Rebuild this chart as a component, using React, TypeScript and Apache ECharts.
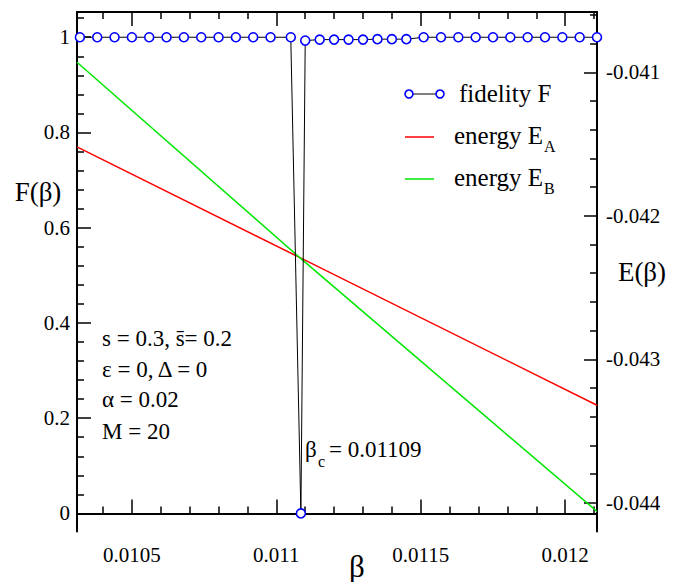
import React, { useEffect, useRef } from 'react';
import * as echarts from 'echarts';

// ---- data ----
const betaF = [
  0.01032, 0.01038, 0.01044, 0.0105, 0.01056, 0.01062, 0.01068, 0.01074, 0.0108, 0.01086,
  0.01092, 0.01098, 0.01105, 0.011085, 0.0111, 0.01115, 0.0112, 0.01125, 0.0113, 0.01135,
  0.0114, 0.01145, 0.01151, 0.01157, 0.01163, 0.01169, 0.01175, 0.01181, 0.01187, 0.01193,
  0.01199, 0.01205, 0.01211,
];
const fidelity = [
  1, 1, 1, 1, 1, 1, 1, 1, 1, 1,
  1, 1, 1, 0, 0.993, 0.995, 0.995, 0.995, 0.995, 0.996,
  0.996, 0.996, 1, 1, 1, 1, 1, 1, 1, 1,
  1, 1, 1,
];
const betaE = [0.01031, 0.01108, 0.01211];
const energyA = [-0.04152, -0.04229, -0.04332];
const energyB = [-0.04093, -0.04229, -0.04406];

const xMajorTicks = [0.0105, 0.011, 0.0115, 0.012];
const xMinorTicks = [0.0104, 0.0106, 0.0107, 0.0108, 0.0109, 0.0111, 0.0112, 0.0113, 0.0114, 0.0116, 0.0117, 0.0118, 0.0119, 0.0121];
const fMajorTicks = [0, 0.2, 0.4, 0.6, 0.8, 1];
const fMinorTicks = [0.04, 0.08, 0.12, 0.16, 0.24, 0.28, 0.32, 0.36, 0.44, 0.48, 0.52, 0.56, 0.64, 0.68, 0.72, 0.76, 0.84, 0.88, 0.92, 0.96, 1.04];
const eMajorTicks = [-0.041, -0.042, -0.043, -0.044];
const eMinorTicks = [-0.0406, -0.0408, -0.0412, -0.0414, -0.0416, -0.0418, -0.0422, -0.0424, -0.0426, -0.0428, -0.0432, -0.0434, -0.0436, -0.0438];

const X_MIN = 0.01031;
const X_MAX = 0.01211;
const F_MIN = -0.038;
const F_MAX = 1.053;
const E_MIN = -0.0442;
const E_MAX = -0.04058;

const FONT = 'Liberation Serif';

export default function App() {
  const ref = useRef<HTMLDivElement>(null);
  useEffect(() => {
    if (!ref.current) return;
    const chart = echarts.init(ref.current, null, { renderer: 'svg' });
    const axisLine = { show: true, lineStyle: { color: '#000', width: 2 } };
    const noLabel = { show: false };
    const xBase = { type: 'value', min: X_MIN, max: X_MAX, splitLine: { show: false } };
    const fBase = { type: 'value', min: F_MIN, max: F_MAX, splitLine: { show: false } };
    const eBase = { type: 'value', min: E_MIN, max: E_MAX, splitLine: { show: false } };
    const tick = (vals: number[], len: number, w = 1.5) => ({
      show: true, inside: true, length: len, customValues: vals, lineStyle: { color: '#000', width: w },
    });
    const labelStyle = { color: '#000', fontFamily: FONT, fontSize: 21 };

    const txt = (t: string, x: number, y: number, size: number, align = 'left') => ({
      type: 'text', x, y,
      style: { text: t, fill: '#000', fontFamily: FONT, fontSize: size, align, verticalAlign: 'middle' },
    });

    chart.setOption({
      animation: false,
      backgroundColor: '#fff',
      grid: { left: 77, top: 12, width: 520, height: 519.5, containLabel: false },
      xAxis: [
        { ...xBase, position: 'bottom', axisLine, axisTick: tick(xMajorTicks, 14),
          axisLabel: { ...labelStyle, customValues: xMajorTicks, margin: 13 } },
        { ...xBase, position: 'bottom', axisLine: { show: false }, axisTick: tick(xMinorTicks, 7), axisLabel: noLabel },
        { ...xBase, position: 'top', axisLine, axisTick: tick(xMajorTicks, 14), axisLabel: noLabel },
        { ...xBase, position: 'top', axisLine: { show: false }, axisTick: tick(xMinorTicks, 7), axisLabel: noLabel },
      ],
      yAxis: [
        { ...fBase, position: 'left', axisLine, axisTick: tick(fMajorTicks, 14),
          axisLabel: { ...labelStyle, customValues: fMajorTicks, margin: 7 } },
        { ...eBase, position: 'right', axisLine, axisTick: tick(eMajorTicks, 13),
          axisLabel: { ...labelStyle, customValues: eMajorTicks, margin: 9 } },
        { ...fBase, position: 'left', axisLine: { show: false }, axisTick: tick(fMinorTicks, 7), axisLabel: noLabel },
        { ...eBase, position: 'right', axisLine: { show: false }, axisTick: tick(eMinorTicks, 7), axisLabel: noLabel },
      ],
      series: [
        {
          name: 'energy EA', type: 'line', xAxisIndex: 0, yAxisIndex: 1, showSymbol: false, symbol: 'none',
          data: betaE.map((b, i) => [b, energyA[i]]), lineStyle: { color: '#ff0000', width: 1.5 }, z: 2,
        },
        {
          name: 'energy EB', type: 'line', xAxisIndex: 0, yAxisIndex: 1, showSymbol: false, symbol: 'none',
          data: betaE.map((b, i) => [b, energyB[i]]), lineStyle: { color: '#00e600', width: 1.5 }, z: 2,
        },
        {
          name: 'fidelity F', type: 'line', xAxisIndex: 0, yAxisIndex: 0, clip: false,
          symbol: 'circle', symbolSize: 9,
          itemStyle: { color: '#fff', borderColor: '#0000ff', borderWidth: 1.6 },
          lineStyle: { color: '#000', width: 1 },
          data: betaF.map((b, i) => [b, fidelity[i]]), z: 3,
        },
      ],
      graphic: [
        { type: 'line', shape: { x1: 409, y1: 94, x2: 440, y2: 94 }, style: { stroke: '#000', lineWidth: 1 } },
        { type: 'circle', shape: { cx: 409, cy: 94, r: 4 }, style: { fill: '#fff', stroke: '#0000ff', lineWidth: 1.6 } },
        { type: 'circle', shape: { cx: 440, cy: 94, r: 4 }, style: { fill: '#fff', stroke: '#0000ff', lineWidth: 1.6 } },
        txt('fidelity F', 459, 93, 25),
        { type: 'line', shape: { x1: 405, y1: 137, x2: 434, y2: 137 }, style: { stroke: '#ff0000', lineWidth: 1.5 } },
        txt('energy E', 454, 135, 25),
        txt('A', 544, 146, 16),
        { type: 'line', shape: { x1: 405, y1: 179, x2: 434, y2: 179 }, style: { stroke: '#00e600', lineWidth: 1.5 } },
        txt('energy E', 454, 177, 25),
        txt('B', 544, 188, 16),
        txt('s = 0.3, s\u0304= 0.2', 102, 338, 23),
        txt('\u03b5 = 0, \u0394 = 0', 102, 369, 23),
        txt('\u03b1 = 0.02', 102, 399, 23),
        txt('M = 20', 102, 431, 23),
        txt('\u03b2', 305, 449, 23),
        txt('c', 318, 461, 16),
        txt('= 0.01109', 329, 449, 23),
        txt('F(\u03b2)', 38, 192, 27, 'center'),
        txt('E(\u03b2)', 642, 272, 27, 'center'),
        txt('\u03b2', 357, 566, 31, 'center'),
      ],
    });
    return () => chart.dispose();
  }, []);
  return <div ref={ref} style={{ position: 'fixed', left: 0, top: 0, width: 685, height: 582 }} />;
}
